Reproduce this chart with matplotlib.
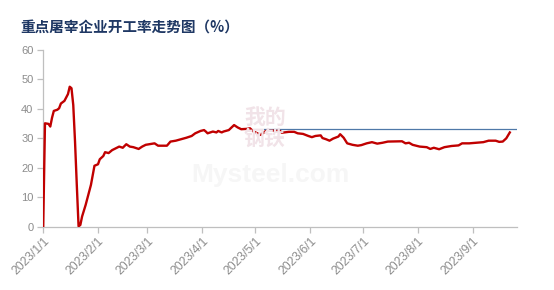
import matplotlib
matplotlib.use("Agg")
import matplotlib.pyplot as plt
import pandas as pd

plt.rcParams['font.family'] = ['Liberation Sans', 'Noto Sans CJK SC', 'DejaVu Sans']

dates = [
    "2023-01-01", "2023-01-02", "2023-01-04", "2023-01-05", "2023-01-06", "2023-01-07",
    "2023-01-09", "2023-01-10", "2023-01-11", "2023-01-13", "2023-01-15", "2023-01-16",
    "2023-01-17", "2023-01-18", "2023-01-19", "2023-01-20", "2023-01-21", "2023-01-22",
    "2023-01-23", "2023-01-25", "2023-01-28", "2023-01-30", "2023-02-01", "2023-02-02",
    "2023-02-04", "2023-02-05", "2023-02-07", "2023-02-09", "2023-02-11", "2023-02-13",
    "2023-02-15", "2023-02-17", "2023-02-19", "2023-02-21", "2023-02-24", "2023-02-26",
    "2023-02-28", "2023-03-05", "2023-03-07", "2023-03-12", "2023-03-14", "2023-03-17",
    "2023-03-20", "2023-03-23", "2023-03-26", "2023-03-28", "2023-03-31", "2023-04-02",
    "2023-04-03", "2023-04-04", "2023-04-07", "2023-04-09", "2023-04-10", "2023-04-12",
    "2023-04-13", "2023-04-16", "2023-04-19", "2023-04-21", "2023-04-23", "2023-04-26",
    "2023-04-28", "2023-04-30", "2023-05-04", "2023-05-07", "2023-05-11", "2023-05-15",
    "2023-05-16", "2023-05-20", "2023-05-23", "2023-05-25", "2023-05-28", "2023-05-31",
    "2023-06-02", "2023-06-04", "2023-06-07", "2023-06-08", "2023-06-10", "2023-06-12",
    "2023-06-14", "2023-06-17", "2023-06-18", "2023-06-20", "2023-06-22", "2023-06-25",
    "2023-06-28", "2023-06-30", "2023-07-03", "2023-07-06", "2023-07-09", "2023-07-12",
    "2023-07-15", "2023-07-23", "2023-07-25", "2023-07-27", "2023-07-29", "2023-08-02",
    "2023-08-06", "2023-08-08", "2023-08-10", "2023-08-13", "2023-08-16", "2023-08-20",
    "2023-08-24", "2023-08-26", "2023-08-30", "2023-09-03", "2023-09-07", "2023-09-10",
    "2023-09-14", "2023-09-16", "2023-09-18", "2023-09-20", "2023-09-22",
]
rates = [
    0.0, 35.1, 34.9, 34.0, 37.0, 39.3,
    39.7, 40.2, 41.8, 42.7, 45.0, 47.5,
    47.0, 41.3, 28.9, 14.2, 0.2, 0.6,
    3.5, 7.4, 14.2, 20.7, 21.2, 22.9,
    24.0, 25.3, 25.0, 26.0, 26.6, 27.2,
    26.8, 28.0, 27.2, 27.0, 26.4, 27.2,
    27.8, 28.3, 27.5, 27.5, 28.9, 29.2,
    29.7, 30.2, 30.8, 31.7, 32.5, 32.8,
    32.3, 31.7, 32.3, 32.0, 32.5, 32.0,
    32.3, 32.8, 34.5, 33.7, 33.1, 33.2,
    33.4, 32.3, 31.2, 32.5, 32.6, 32.5,
    31.9, 32.2, 32.2, 31.7, 31.5, 30.8,
    30.4, 30.8, 31.0, 30.1, 29.7, 29.2,
    29.9, 30.6, 31.4, 30.2, 28.3, 27.8,
    27.5, 27.7, 28.3, 28.7, 28.2, 28.5,
    28.9, 29.0, 28.3, 28.5, 27.8, 27.2,
    27.0, 26.4, 26.8, 26.3, 27.0, 27.4,
    27.6, 28.3, 28.3, 28.5, 28.7, 29.2,
    29.2, 28.8, 28.9, 30.0, 32.0,
]

ref_value = 33.1
ref_dates = ["2023-05-06", "2023-09-26"]
x_range = ["2023-01-01", "2023-09-26"]

tick_dates = ["2023-01-01", "2023-02-01", "2023-03-01", "2023-04-01", "2023-05-01",
              "2023-06-01", "2023-07-01", "2023-08-01", "2023-09-01"]
tick_labels = ["2023/1/1", "2023/2/1", "2023/3/1", "2023/4/1", "2023/5/1",
               "2023/6/1", "2023/7/1", "2023/8/1", "2023/9/1"]
y_ticks = [0, 10, 20, 30, 40, 50, 60]

title = "重点屠宰企业开工率走势图（%）"

fig = plt.figure(figsize=(5.54, 2.90), dpi=100)
ax = fig.add_axes([0.078, 0.218, 0.855, 0.61])

# watermark
fig.text(0.478, 0.56, "我的\n钢铁", ha="center", va="center", fontsize=15,
         family=["Noto Sans CJK SC"], color="#f1e3e8", linespacing=1.0,
         fontweight="bold", zorder=0)
fig.text(0.488, 0.395, "Mysteel.com", ha="center", va="center", fontsize=19,
         color="#f6f6f6", fontweight="bold", zorder=0)

x = pd.to_datetime(dates)
ax.plot(x, rates, color="#c00000", linewidth=1.7, solid_joinstyle="round", zorder=3)
ax.plot(pd.to_datetime(ref_dates), [ref_value, ref_value], color="#4f78a8",
        linewidth=0.9, zorder=2)

ax.set_xlim(pd.to_datetime(x_range[0]), pd.to_datetime(x_range[1]))
ax.set_ylim(0, 60)
ax.set_yticks(y_ticks)
ax.set_xticks(pd.to_datetime(tick_dates))
ax.set_xticklabels(tick_labels, rotation=45, ha="right", rotation_mode="anchor")

for s in ["top", "right"]:
    ax.spines[s].set_visible(False)
for s in ["left", "bottom"]:
    ax.spines[s].set_color("#bfbfbf")
    ax.spines[s].set_linewidth(0.9)
ax.tick_params(axis="both", colors="#bfbfbf", length=4, width=0.9,
               labelcolor="#8c8c8c", labelsize=8)
ax.tick_params(axis="x", pad=2, labelsize=8.8)
ax.tick_params(axis="y", pad=3)
ax.patch.set_alpha(0)

fig.text(0.036, 0.905, title, fontsize=10.5, fontweight="bold", color="#1f3864",
         family=["Noto Sans CJK SC", "DejaVu Sans"], ha="left", va="center")

fig.savefig("out.png", dpi=100)
